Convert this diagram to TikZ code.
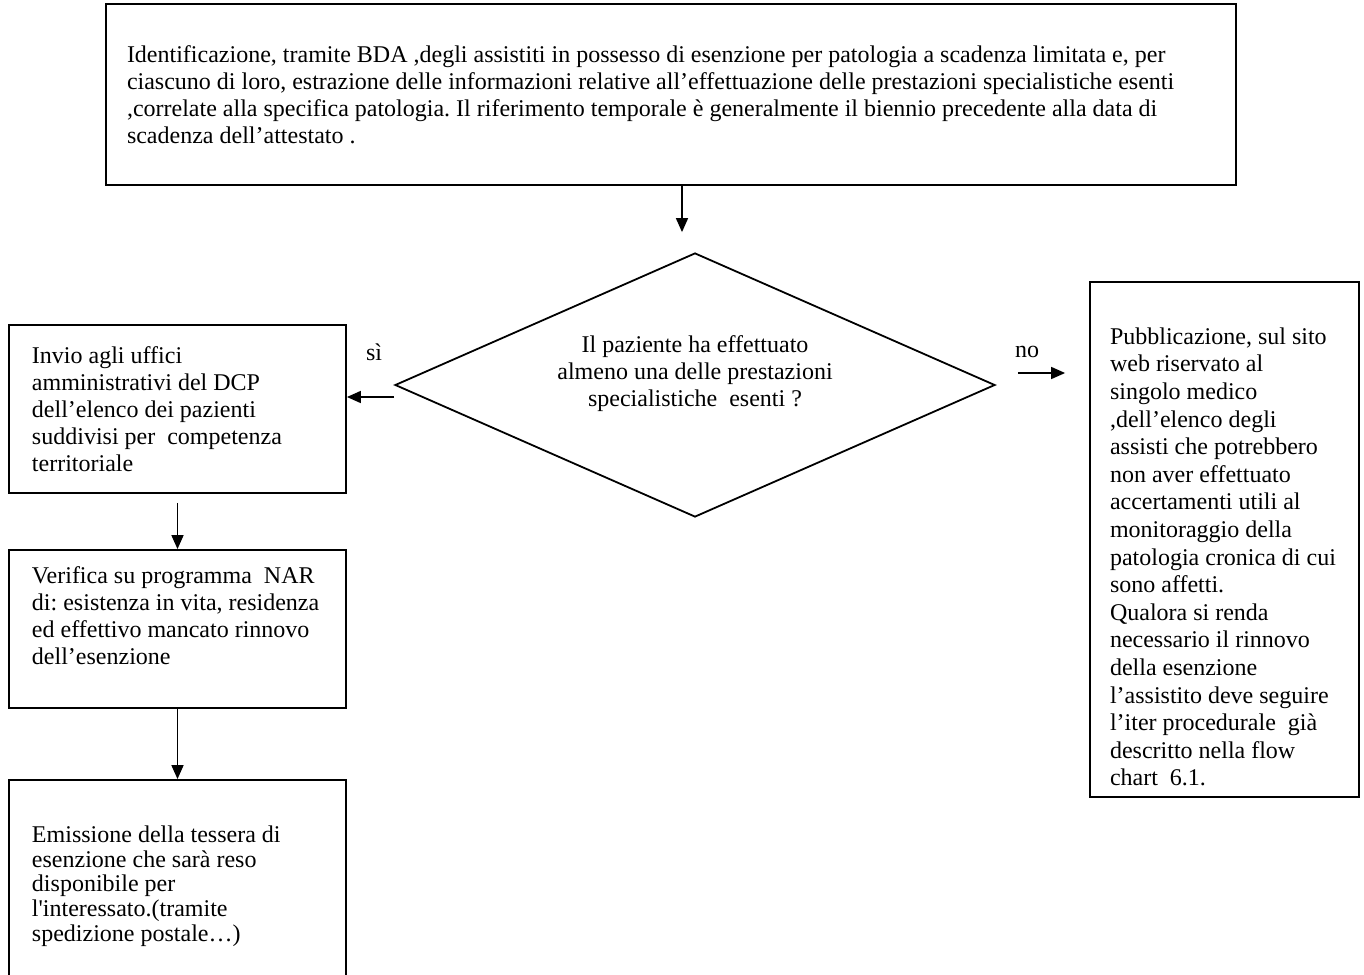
\documentclass[tikz,border=0pt]{standalone}
\usepackage{fontspec}
\setmainfont{Liberation Serif}
\usetikzlibrary{shapes.geometric,arrows.meta}

\tikzset{
  stepbox/.style={draw, line width=0.9pt, rectangle, align=flush left,
    font=\fontsize{12}{13.5}\selectfont\frenchspacing},
  decision/.style={draw, line width=0.9pt, diamond, aspect=2.27, inner sep=0pt, align=center,
    minimum width=300pt, minimum height=132pt,
    font=\fontsize{12}{13.5}\selectfont\frenchspacing},
  arr/.style={line width=0.8pt, -{Triangle[length=7pt,width=6pt]}},
  lbl/.style={font=\fontsize{12}{13.5}\selectfont, inner sep=0pt}
}

\begin{document}
\begin{tikzpicture}[x=0.5pt, y=-0.5pt]
  \useasboundingbox (0,0) rectangle (1364,974);

  \node[stepbox, text width=544pt, inner xsep=10.5pt, minimum height=90.5pt]
    (ident) at (671,94.5)
    {Identificazione, tramite BDA ,degli assistiti in possesso di esenzione per patologia a scadenza limitata e, per\\
     ciascuno di loro, estrazione delle informazioni relative all’effettuazione delle prestazioni specialistiche esenti\\
     ,correlate alla specifica patologia. Il riferimento temporale è generalmente il biennio precedente alla data di\\
     scadenza dell’attestato .};

  \node[decision] (dia) at (695,385)
    {Il paziente ha effettuato\\ almeno una delle prestazioni\\ specialistiche~ esenti ?\\ \mbox{}};

  \node[stepbox, text width=145.5pt, inner xsep=11.5pt, minimum height=84pt]
    (invio) at (177.5,409)
    {Invio agli uffici\\ amministrativi del DCP\\ dell’elenco dei pazienti\\ suddivisi per~ competenza\\ territoriale};

  \node[stepbox, text width=145.5pt, inner xsep=11.5pt, minimum height=79pt]
    (verifica) at (177.5,629)
    {Verifica su programma~ NAR\\ di: esistenza in vita, residenza\\ ed effettivo mancato rinnovo\\ dell’esenzione\\ \mbox{}};

  \node[stepbox, text width=145.5pt, inner xsep=11.5pt, minimum height=106pt,
    font=\fontsize{12}{12.35}\selectfont\frenchspacing]
    (emiss) at (177.5,886)
    {Emissione della tessera di\\ esenzione che sarà reso\\ disponibile per\\ l\textquotesingle interessato.(tramite\\ spedizione postale…)};

  % empty space above the first line, as in the original box
  \node[stepbox, text width=114.5pt, inner xsep=10pt, minimum height=257.5pt,
    font=\fontsize{12}{13.8}\selectfont\frenchspacing]
    (pubbl) at (1224.5,539.5)
    {\rule{0pt}{25.8pt}Pubblicazione, sul sito\\ web riservato al\\ singolo medico\\ ,dell’elenco degli\\
     assisti che potrebbero\\ non aver effettuato\\ accertamenti utili al\\ monitoraggio della\\
     patologia cronica di cui\\ sono affetti.\\ Qualora si renda\\ necessario il rinnovo\\
     della esenzione\\ l’assistito deve seguire\\ l’iter procedurale~ già\\ descritto nella flow\\ chart~ 6.1.};

  \node[lbl] (si) at (374,352) {sì};
  \node[lbl] (no) at (1027,352) {no};

  \draw[arr, shorten >=10pt] ([xshift=5.5pt]ident.south) -- ([xshift=5.5pt]ident.south |- dia.north);
  \draw[arr] ([yshift=-6pt]dia.west) -- ([yshift=-6pt]dia.west -| invio.east);
  \draw[arr, shorten <=11pt, shorten >=12pt] ([yshift=6pt]dia.east) -- ([yshift=6pt]dia.east -| pubbl.west);
  \draw[arr, shorten <=4.5pt] (invio.south) -- (verifica.north);
  \draw[arr] (verifica.south) -- (emiss.north);
\end{tikzpicture}
\end{document}
